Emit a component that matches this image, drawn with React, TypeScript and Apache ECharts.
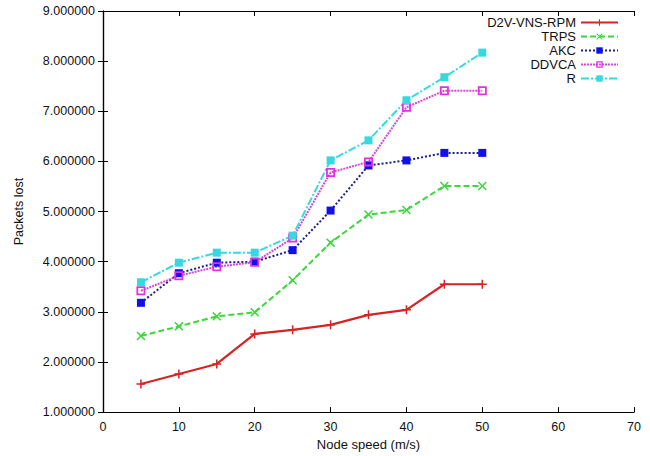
import React, { useEffect, useRef } from "react";
import * as echarts from "echarts";

const speeds = [5, 10, 15, 20, 25, 30, 35, 40, 45, 50];
const d2vVnsRpm = [1.56, 1.76, 1.96, 2.56, 2.64, 2.74, 2.94, 3.04, 3.55, 3.55];
const trps = [2.52, 2.71, 2.91, 2.99, 3.63, 4.38, 4.94, 5.03, 5.51, 5.51];
const akc = [3.18, 3.77, 3.98, 4.0, 4.23, 5.02, 5.92, 6.02, 6.17, 6.17];
const ddvca = [3.42, 3.72, 3.9, 3.99, 4.47, 5.78, 5.99, 7.08, 7.41, 7.41];
const r = [3.59, 3.98, 4.18, 4.18, 4.52, 6.02, 6.42, 7.22, 7.68, 8.17];
const seriesNames = ["D2V-VNS-RPM", "TRPS", "AKC", "DDVCA", "R"];

const PLUS = "path://M-1,-6H1V-1H6V1H1V6H-1V1H-6V-1H-1Z";
const XMARK = "path://M-4.6,-6L0,-1.4L4.6,-6L6,-4.6L1.4,0L6,4.6L4.6,6L0,1.4L-4.6,6L-6,4.6L-1.4,0L-6,-4.6Z";
const OPENSQ = "path://M0,0H10V10H0Z M2,2V8H8V2Z";
const XSQ = "path://M0,0H10V10H0Z";

const FONT = "Liberation Sans";

export default function App() {
  const ref = useRef<HTMLDivElement>(null);
  useEffect(() => {
    if (!ref.current) return;
    const chart = echarts.init(ref.current, null, { renderer: "svg" });
    const pair = (vals: number[]) => speeds.map((s, i) => [s, vals[i]]);
    const mk = (
      name: string,
      vals: number[],
      lineColor: string,
      markColor: string,
      type: any,
      symbol: string,
      size: number
    ) => ({
      name,
      type: "line",
      data: pair(vals),
      xAxisIndex: 0,
      yAxisIndex: 0,
      symbol,
      symbolSize: size,
      showAllSymbol: true,
      lineStyle: { color: lineColor, width: name === "D2V-VNS-RPM" ? 2.2 : 2, type },
      itemStyle: { color: markColor, borderWidth: 0 },
      color: lineColor,
    });
    const axisCommon = {
      axisLine: { show: true, lineStyle: { color: "#000", width: 1.2 } },
      axisTick: { show: true, inside: true, length: 5, lineStyle: { color: "#000" } },
      splitLine: { show: false },
    };
    chart.setOption({
      animation: false,
      backgroundColor: "#fff",
      textStyle: { fontFamily: FONT },
      grid: { left: 103, right: 16, top: 11, bottom: 41 },
      legend: {
        orient: "vertical",
        right: 31,
        top: 16,
        padding: 0,
        align: "right",
        itemWidth: 37,
        itemHeight: 8,
        itemGap: 1,
        textStyle: { fontFamily: FONT, fontSize: 13, lineHeight: 12, color: "#111" },
        data: seriesNames,
      },
      xAxis: [
        {
          type: "value",
          min: 0,
          max: 70,
          interval: 10,
          name: "Node speed (m/s)",
          nameLocation: "middle",
          nameGap: 22,
          nameTextStyle: { fontFamily: FONT, fontSize: 13, color: "#111" },
          axisLabel: { fontFamily: FONT, fontSize: 12.5, color: "#111", margin: 8 },
          ...axisCommon,
        },
        {
          type: "value",
          position: "top",
          min: 0,
          max: 70,
          interval: 10,
          axisLabel: { show: false },
          ...axisCommon,
        },
      ],
      yAxis: [
        {
          type: "value",
          min: 1,
          max: 9,
          interval: 1,
          name: "Packets lost",
          nameLocation: "middle",
          nameGap: 78,
          nameTextStyle: { fontFamily: FONT, fontSize: 12.5, color: "#111" },
          axisLabel: {
            fontFamily: FONT,
            fontSize: 12.5,
            color: "#111",
            margin: 8,
            formatter: (v: number) => v.toFixed(6),
          },
          ...axisCommon,
        },
        {
          type: "value",
          position: "right",
          min: 1,
          max: 9,
          interval: 1,
          axisLabel: { show: false },
          ...axisCommon,
        },
      ],
      series: [
        mk("D2V-VNS-RPM", d2vVnsRpm, "#d42424", "#d42424", "solid", PLUS, 9),
        mk("TRPS", trps, "#3ad83a", "#3ad83a", [6, 3], XMARK, 9),
        mk("AKC", akc, "#1c1c8a", "#1010ee", [2, 2], XSQ, 8),
        mk("DDVCA", ddvca, "#d848d8", "#e030e0", [2, 1], OPENSQ, 9),
        mk("R", r, "#38d8e0", "#38d8e0", [8, 2, 2, 2], XSQ, 8),
      ],
    });
    return () => chart.dispose();
  }, []);
  return (
    <div
      ref={ref}
      style={{ position: "absolute", left: 0, top: 0, width: 650, height: 456 }}
    />
  );
}
